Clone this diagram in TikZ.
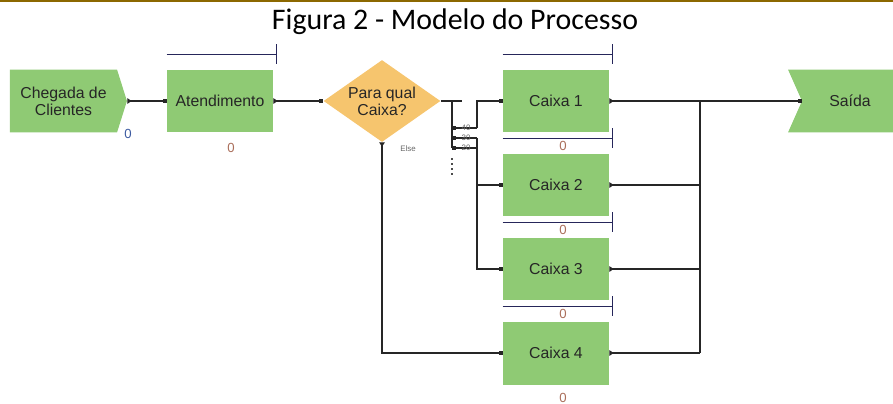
\documentclass[tikz,border=0pt]{standalone}
\usepackage{fontspec}
\setmainfont{Carlito}
\newfontfamily\arenafont{Liberation Sans}
\usetikzlibrary{positioning, arrows.meta, shapes.geometric, shapes.symbols}

\definecolor{blockgreen}{RGB}{143,202,116}
\definecolor{deciorange}{RGB}{246,197,110}
\definecolor{queueblue}{RGB}{38,38,90}
\definecolor{rulegold}{RGB}{140,104,0}
\definecolor{countred}{RGB}{170,110,90}
\definecolor{countblue}{RGB}{60,90,160}

\begin{document}
\begin{tikzpicture}[
    x=0.02cm, y=-0.02cm,
    block/.style={
        fill=blockgreen,
        minimum width=2.12cm,
        minimum height=1.26cm,
        inner sep=0pt,
        align=center,
        text=black!85,
        font=\arenafont\fontsize{9}{9.5}\selectfont,
    },
    terminal/.style={
        block,
        shape=signal,
        signal pointer angle=145,
    },
    decision/.style={
        block,
        shape=diamond,
        fill=deciorange,
        aspect=1.43,
        minimum width=2.34cm,
        minimum height=1.64cm,
    },
    queue/.style={
        draw=queueblue,
        line width=0.7pt,
    },
    counter/.style={
        font=\arenafont\fontsize{7.5}{8}\selectfont,
        text=countred,
        inner sep=1pt,
    },
    tiny label/.style={
        font=\arenafont\fontsize{4.5}{5}\selectfont,
        text=black!60,
        inner sep=0pt,
    },
    wire/.style={
        draw=black!85,
        line width=0.7pt,
    },
    flow/.style={
        wire,
        {Triangle[reversed, length=2.4pt, width=3.2pt]}-{Square[length=2.2pt, width=2.2pt]},
    },
    outlet/.style={
        wire,
        {Triangle[reversed, length=2.4pt, width=3.2pt]}-,
    },
    entry/.style={
        wire,
        -{Square[length=2.2pt, width=2.2pt]},
    },
]

\useasboundingbox (0,0) rectangle (893,403);
\clip (0,0) rectangle (893,403);

% --- Header rule and title ---
\fill[rulegold] (0,0) rectangle (893,2);
\node[font=\fontsize{17}{20}\selectfont] (title) at (455,22) {Figura 2 - Modelo do Processo};

% --- Arrival and first service ---
\node[terminal, signal to=east, minimum width=2.34cm] (chegada) at (63.5,101) {Chegada de\\Clientes};
\node[counter, text=countblue] (chegada-cnt) at (128,134) {0};

\node[block] (atend) at (220,101) {Atendimento};
\node[counter, below=0.17cm of atend, xshift=0.22cm] (atend-cnt) {0};
\draw[queue] ([shift={(0,0.3cm)}]atend.north west) -- ([shift={(0.06cm,0.3cm)}]atend.north east) coordinate (atend-q);
\draw[queue] ([yshift=0.2cm]atend-q) -- ([yshift=-0.2cm]atend-q);

% --- Decision ---
\node[decision] (decide) at (382,101) {Para qual\\Caixa?};
\node[tiny label] (else) at (408,149) {Else};

% --- Cashiers ---
\foreach \n in {1,...,4} {
    \node[block] (caixa\n) at (556,{101+84*(\n-1)}) {Caixa \n};
    \node[counter, below=0.13cm of caixa\n, xshift=0.14cm] (caixa\n-cnt) {0};
    \draw[queue] ([shift={(0,0.3cm)}]caixa\n.north west) -- ([shift={(0.06cm,0.3cm)}]caixa\n.north east) coordinate (caixa\n-q);
    \draw[queue] ([yshift=0.2cm]caixa\n-q) -- ([yshift=-0.2cm]caixa\n-q);
}

% --- Exit ---
\node[terminal, signal to=nowhere, signal from=west, signal pointer angle=132, minimum width=2.2cm] (saida) at (850,101) {Saída};

% --- Connectors ---
\draw[flow] (chegada.east) -- (atend.west);
\draw[flow] (atend.east) -- (decide.west);

% chance branches
\coordinate (fork) at (452,101);
\coordinate (fork-end) at (462,101);
\coordinate (fork-low) at (452,148);
\coordinate (dots-top) at (452,158);
\coordinate (dots-bot) at (452,177);
\draw[wire] (decide.east) -- (fork-end);
\draw[wire] (fork) -- (fork-low);
\draw[black!70, line width=0.9pt, dotted] (dots-top) -- (dots-bot);
\foreach \p/\y in {40/128, 30/138, 20/148} {
    \coordinate (b\p) at (452,\y);
    \coordinate (v\p) at (477,\y);
    \draw[wire, {Square[length=2pt, width=2pt]}-] (b\p) -- (v\p);
    \node[tiny label] at (466,\y) {\p};
}
\draw[entry] (v40) |- (caixa1.west);
\draw[entry] (v30) |- (caixa3.west);
\draw[entry] (v30 |- caixa2.west) -- (caixa2.west);
\draw[flow] (decide.south) |- (caixa4.west);

% merge to exit
\coordinate (merge) at (700,101);
\draw[flow] (caixa1.east) -- (saida.west);
\foreach \n in {2,3,4} {
    \draw[outlet] (caixa\n.east) -- (caixa\n.east -| merge);
}
\draw[wire] (merge) -- (merge |- caixa4.east);

\end{tikzpicture}
\end{document}
